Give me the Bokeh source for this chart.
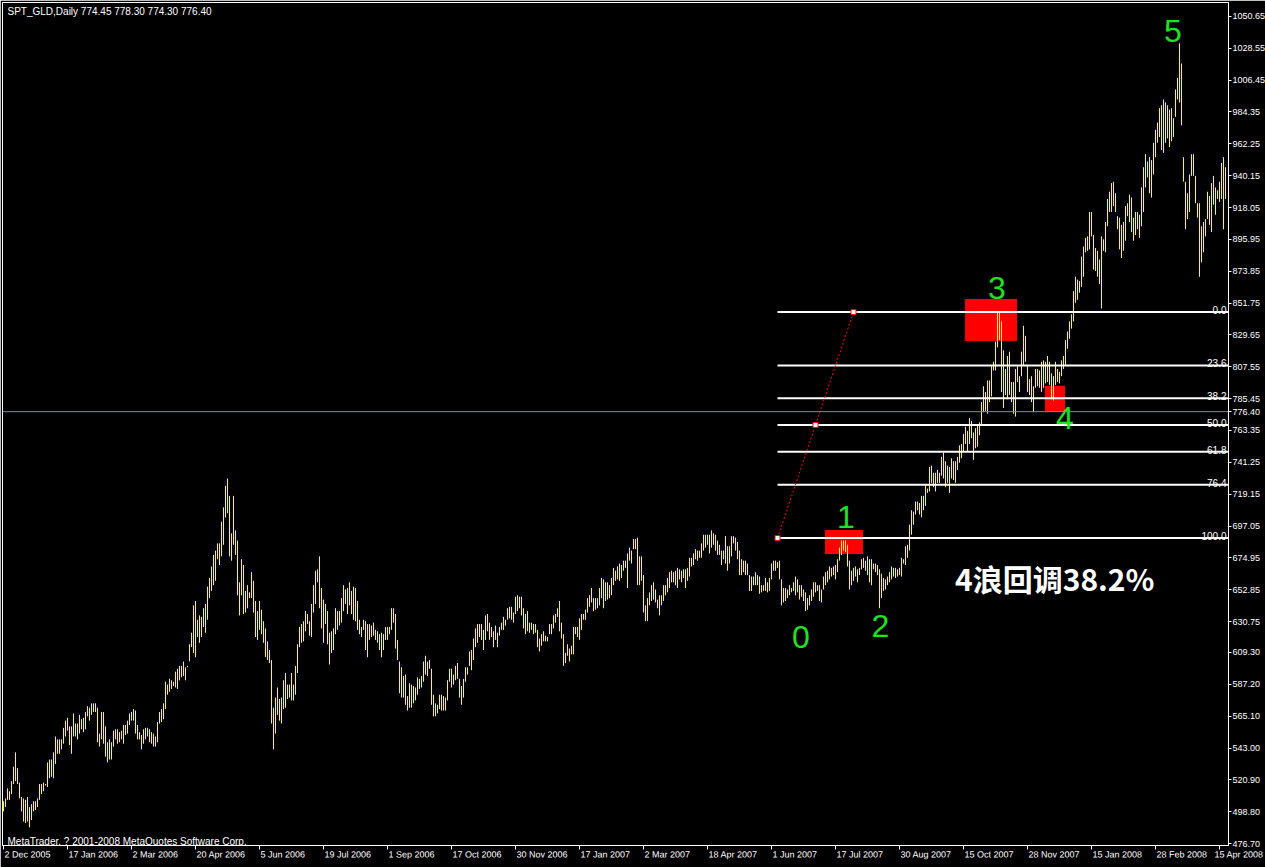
from bokeh.plotting import figure
from bokeh.models import Range1d, FixedTicker, PrintfTickFormatter, Span
from bokeh.core.properties import value
from bokeh.embed import file_html
from bokeh.resources import INLINE

# ---------------- data (daily bars, high / low) ----------------
bar_high = [
    506, 508, 515, 513, 520, 530, 540, 529, 519, 509, 508, 507, 509, 502, 504, 506, 506, 508, 518, 518,
    519, 518, 533, 535, 535, 540, 551, 549, 549, 549, 557, 562, 564, 558, 558, 567, 560, 560, 566, 563,
    564, 568, 572, 571, 574, 574, 574, 571, 553, 568, 568, 558, 547, 549, 547, 555, 556, 556, 554, 555,
    559, 559, 562, 567, 568, 570, 569, 559, 554, 552, 556, 557, 557, 556, 554, 553, 551, 561, 568, 570,
    574, 589, 587, 591, 590, 589, 596, 598, 600, 600, 603, 599, 600, 615, 623, 642, 645, 632, 635, 634,
    640, 643, 655, 661, 669, 677, 680, 685, 685, 700, 710, 725, 730, 718, 692, 718, 694, 687, 658, 674,
    670, 652, 656, 651, 665, 659, 645, 638, 645, 639, 631, 626, 617, 611, 604, 571, 578, 585, 577, 578,
    590, 595, 587, 587, 595, 587, 600, 615, 627, 629, 631, 638, 636, 631, 643, 656, 666, 667, 676, 654,
    646, 643, 638, 623, 624, 626, 640, 638, 638, 647, 656, 653, 654, 658, 652, 655, 654, 645, 632, 627,
    632, 631, 629, 629, 628, 630, 625, 624, 622, 623, 622, 627, 627, 627, 640, 640, 636, 618, 603, 599,
    593, 594, 579, 588, 587, 586, 585, 592, 591, 593, 603, 607, 603, 604, 598, 580, 574, 573, 580, 580,
    579, 578, 590, 598, 598, 594, 600, 602, 591, 586, 591, 599, 599, 610, 611, 619, 626, 629, 629, 629,
    625, 635, 636, 630, 627, 624, 628, 623, 627, 630, 634, 632, 640, 641, 641, 637, 648, 649, 648, 648,
    640, 636, 638, 630, 630, 629, 629, 625, 619, 622, 624, 621, 620, 629, 629, 635, 636, 640, 645, 630,
    622, 609, 615, 612, 614, 627, 627, 627, 633, 636, 636, 639, 647, 649, 654, 647, 647, 647, 654, 661,
    660, 658, 658, 656, 661, 668, 666, 669, 671, 670, 673, 673, 678, 682, 680, 688, 688, 689, 676, 676,
    663, 642, 647, 651, 656, 658, 653, 646, 649, 649, 656, 656, 661, 665, 666, 665, 666, 668, 667, 666,
    667, 667, 668, 675, 675, 678, 681, 680, 680, 685, 691, 691, 691, 691, 694, 692, 691, 687, 684, 680,
    680, 690, 683, 683, 690, 690, 689, 686, 680, 674, 673, 673, 671, 663, 662, 662, 665, 663, 662, 656,
    656, 661, 658, 661, 671, 673, 673, 672, 673, 660, 654, 654, 653, 656, 654, 658, 662, 660, 656, 656,
    653, 651, 647, 649, 653, 658, 658, 656, 656, 653, 662, 665, 666, 669, 668, 669, 670, 674, 682, 687,
    687, 687, 684, 673, 666, 668, 669, 667, 668, 674, 675, 673, 676, 674, 674, 671, 671, 670, 667, 664,
    661, 660, 662, 665, 669, 668, 668, 667, 668, 675, 674, 683, 684, 698, 708, 707, 714, 714, 713, 718,
    718, 726, 723, 738, 739, 734, 734, 736, 734, 745, 748, 742, 739, 738, 744, 742, 742, 745, 753, 754,
    761, 766, 763, 772, 770, 762, 765, 767, 769, 783, 794, 790, 798, 798, 808, 811, 825, 846, 846, 839,
    819, 806, 815, 818, 797, 797, 806, 808, 801, 818, 836, 829, 808, 799, 801, 794, 806, 806, 805, 811,
    812, 811, 815, 811, 803, 801, 811, 806, 804, 812, 815, 826, 832, 839, 844, 860, 870, 868, 867, 884,
    891, 897, 898, 915, 915, 899, 890, 888, 882, 898, 896, 908, 924, 929, 935, 936, 928, 912, 911, 906,
    908, 919, 921, 927, 925, 911, 915, 915, 913, 932, 946, 955, 950, 953, 951, 963, 972, 977, 987, 989,
    993, 991, 989, 986, 987, 980, 1000, 1008, 1032, 1018, 953, 936, 928, 941, 955, 955, 940, 921, 921, 905,
    908, 910, 929, 926, 935, 940, 932, 930, 936, 949, 953, 946,
]
bar_low = [
    499, 502, 507, 507, 511, 518, 520, 518, 508, 499, 492, 491, 492, 488, 493, 499, 500, 502, 507, 511,
    513, 517, 516, 522, 523, 522, 532, 539, 539, 542, 546, 551, 555, 545, 539, 551, 551, 549, 553, 556,
    554, 556, 565, 562, 566, 568, 568, 547, 544, 549, 546, 537, 533, 535, 535, 544, 549, 546, 547, 549,
    546, 552, 553, 559, 562, 562, 553, 549, 549, 542, 546, 549, 551, 547, 546, 544, 544, 547, 560, 561,
    563, 570, 580, 582, 584, 586, 585, 584, 590, 592, 593, 590, 599, 603, 613, 609, 606, 620, 616, 620,
    627, 623, 632, 647, 652, 656, 659, 674, 670, 676, 684, 703, 706, 676, 673, 684, 677, 649, 635, 649,
    636, 637, 640, 647, 647, 637, 620, 618, 625, 622, 616, 606, 604, 602, 560, 542, 553, 566, 562, 560,
    570, 571, 577, 578, 576, 576, 580, 595, 613, 616, 617, 624, 629, 621, 620, 637, 643, 658, 640, 626,
    616, 629, 615, 601, 609, 611, 622, 625, 628, 630, 638, 643, 636, 642, 636, 632, 631, 625, 622, 620,
    625, 611, 606, 618, 620, 621, 618, 616, 611, 606, 611, 618, 618, 622, 625, 630, 612, 604, 581, 578,
    578, 573, 569, 571, 571, 574, 576, 580, 584, 585, 589, 594, 593, 598, 573, 565, 565, 567, 570, 569,
    569, 569, 576, 589, 585, 587, 590, 591, 578, 573, 578, 589, 594, 600, 597, 604, 613, 616, 620, 618,
    611, 618, 624, 618, 620, 613, 618, 613, 621, 625, 625, 628, 632, 633, 632, 630, 636, 638, 640, 635,
    626, 622, 624, 623, 625, 622, 623, 613, 610, 614, 617, 617, 617, 622, 622, 626, 630, 634, 624, 619,
    600, 602, 607, 603, 608, 608, 622, 620, 618, 625, 632, 632, 637, 641, 644, 638, 639, 640, 642, 647,
    640, 645, 646, 647, 649, 656, 659, 660, 659, 661, 666, 668, 654, 673, 671, 681, 681, 656, 656, 659,
    637, 631, 631, 642, 645, 646, 644, 640, 635, 642, 645, 649, 651, 654, 658, 658, 656, 654, 660, 658,
    661, 654, 659, 662, 669, 670, 674, 673, 675, 675, 680, 682, 684, 678, 682, 684, 680, 677, 677, 670,
    674, 671, 666, 671, 676, 685, 680, 674, 663, 663, 665, 663, 663, 652, 652, 656, 656, 656, 650, 651,
    652, 652, 651, 652, 660, 666, 666, 668, 660, 642, 644, 645, 647, 649, 651, 652, 649, 651, 646, 648,
    645, 638, 639, 642, 645, 648, 651, 652, 645, 644, 653, 656, 658, 660, 662, 663, 660, 665, 673, 677,
    680, 679, 669, 653, 656, 659, 662, 658, 663, 667, 668, 666, 663, 658, 656, 667, 665, 663, 640, 647,
    652, 653, 656, 658, 660, 662, 661, 662, 663, 662, 671, 670, 675, 680, 691, 698, 705, 708, 705, 703,
    708, 711, 720, 721, 727, 724, 721, 727, 727, 732, 730, 724, 727, 720, 730, 729, 727, 736, 741, 744,
    749, 754, 749, 754, 758, 743, 751, 752, 760, 767, 776, 777, 775, 783, 787, 805, 805, 821, 826, 790,
    779, 788, 785, 788, 783, 775, 773, 797, 790, 801, 808, 811, 790, 788, 783, 776, 793, 794, 793, 790,
    793, 796, 797, 795, 785, 784, 795, 797, 796, 801, 806, 808, 820, 827, 834, 839, 852, 854, 859, 863,
    870, 887, 888, 889, 898, 875, 874, 870, 865, 848, 888, 887, 905, 915, 915, 919, 915, 903, 889, 883,
    888, 895, 912, 908, 901, 895, 899, 903, 897, 905, 915, 932, 939, 928, 925, 941, 953, 963, 967, 958,
    956, 963, 966, 960, 964, 967, 981, 993, 991, 975, 936, 903, 910, 915, 940, 940, 921, 911, 870, 880,
    887, 898, 910, 906, 901, 920, 913, 924, 922, 924, 903, 924,
]
bar_index = list(range(len(bar_high)))

date_labels = [
    "2 Dec 2005", "17 Jan 2006", "2 Mar 2006", "20 Apr 2006", "5 Jun 2006", "19 Jul 2006",
    "1 Sep 2006", "17 Oct 2006", "30 Nov 2006", "17 Jan 2007", "2 Mar 2007", "18 Apr 2007",
    "1 Jun 2007", "17 Jul 2007", "30 Aug 2007", "15 Oct 2007", "28 Nov 2007", "15 Jan 2008",
    "28 Feb 2008", "15 Apr 2008",
]
date_bar = [0, 32, 64, 96, 128, 160, 192, 224, 256, 288, 320, 352, 384, 416, 448, 480, 512, 544, 576, 608]

price_ticks = [1050.65, 1028.55, 1006.45, 984.35, 962.25, 940.15, 918.05, 895.95, 873.85, 851.75,
               829.65, 807.55, 785.45, 763.35, 741.25, 719.15, 697.05, 674.95, 652.85, 630.75,
               609.30, 587.20, 565.10, 543.00, 520.90, 498.80, 476.70]

last_price = 776.40
title_text = "SPT_GLD,Daily  774.45 778.30 774.30 776.40"
copyright_text = "MetaTrader, ? 2001-2008 MetaQuotes Software Corp."

# Fibonacci retracement: drawn from bar 387 (100%) to bar 425 (0%)
fib_bar = [387, 425]
fib_price = [688.75, 845.50]
fib_levels = [0.0, 23.6, 38.2, 50.0, 61.8, 76.4, 100.0]

# red highlight boxes (bar index / price)
box_left = [410.75, 480.75, 520.75]
box_right = [429.75, 506.75, 530.75]
box_top = [694.3, 854.5, 794.4]
box_bottom = [677.7, 825.5, 776.5]

# Elliott wave numbers
wave_names = ["0", "1", "2", "3", "4", "5"]
wave_bar = [398.75, 421.25, 438.5, 496.75, 530.75, 584.75]
wave_price = [612.1, 695.7, 619.7, 854.9, 764.7, 1032.7]

note_text = "4浪回调38.2%"
note_bar = 475.75
note_price = 661.1

# ---------------- layout constants ----------------
X0, X1 = -0.5, 612.5
Y0, Y1 = 475.35, 1060.32
FRAME_W = 1226
RIGHT_W = 37
PX_PER_BAR = FRAME_W / (X1 - X0)
FONT = "Liberation Sans"
DATE_FS = 9

# Arial / Liberation Sans advance widths (em), used only to keep the last date inside the page
CW = {" ": 0.278, "D": 0.722, "J": 0.5, "M": 0.833, "A": 0.667, "S": 0.667, "O": 0.778,
      "N": 0.722, "F": 0.611, "e": 0.556, "c": 0.5, "a": 0.556, "n": 0.556, "r": 0.333,
      "p": 0.556, "u": 0.556, "l": 0.222, "g": 0.556, "t": 0.278, "o": 0.556, "v": 0.5,
      "b": 0.556}


def label_start(bar, text):
    w = sum(CW.get(ch, 0.556) for ch in text) * DATE_FS
    s = bar + 1 / PX_PER_BAR
    s_max = X1 + (RIGHT_W - 2 - w) / PX_PER_BAR
    return round(min(s, s_max), 3)


label_pos = [label_start(b, s) for b, s in zip(date_bar, date_labels)]

# ---------------- figure ----------------
p = figure(frame_width=FRAME_W, height=867, x_range=Range1d(X0, X1), y_range=Range1d(Y0, Y1),
           y_axis_location="right", output_backend="svg", toolbar_location=None,
           background_fill_color="black", border_fill_color="black",
           min_border_left=2, min_border_top=2, min_border_right=RIGHT_W, min_border_bottom=18,
           outline_line_color="white", outline_line_width=1)
p.grid.visible = False

xa = p.xaxis[0]
xa.ticker = FixedTicker(ticks=label_pos, minor_ticks=date_bar)
xa.major_label_overrides = {c: s for c, s in zip(label_pos, date_labels)}
xa.major_label_orientation = -0.001     # tiny clockwise tilt -> labels start at their tick
xa.major_tick_out = 0
xa.major_tick_in = 0
xa.major_tick_line_color = None
xa.minor_tick_out = 4
xa.minor_tick_in = 0
xa.minor_tick_line_color = "white"
xa.major_label_standoff = 5
xa.axis_line_color = "white"
xa.major_label_text_color = "white"
xa.major_label_text_font = FONT
xa.major_label_text_font_size = f"{DATE_FS}px"

ya = p.yaxis[0]
ya.ticker = FixedTicker(ticks=price_ticks + [last_price])
ya.formatter = PrintfTickFormatter(format="%.2f")
ya.major_tick_out = 3
ya.major_tick_in = 0
ya.minor_tick_out = 0
ya.minor_tick_in = 0
ya.major_label_standoff = 1
ya.axis_line_color = "white"
ya.major_tick_line_color = "white"
ya.major_label_text_color = "white"
ya.major_label_text_font = FONT
ya.major_label_text_font_size = "9px"

# red boxes (behind the bars)
p.quad(left=box_left, right=box_right, top=box_top, bottom=box_bottom,
       fill_color="#FF0000", line_color=None)

# price bars
p.segment(x0=bar_index, y0=bar_low, x1=bar_index, y1=bar_high,
          line_color="#FFFF00", line_width=1)

# current price line
p.add_layout(Span(location=last_price, dimension="width", line_color="#7A8CA3", line_width=1))

# Fibonacci levels
top_p, bot_p = fib_price[1], fib_price[0]
lvl_price = [top_p - lv / 100.0 * (top_p - bot_p) for lv in fib_levels]
n = len(fib_levels)
p.segment(x0=[fib_bar[0]] * n, x1=[X1] * n, y0=lvl_price, y1=lvl_price,
          line_color="white", line_width=2)
p.text(x=[X1] * n, y=lvl_price, text=[f"{lv:.1f}" for lv in fib_levels],
       x_offset=-2, y_offset=-2, text_align="right", text_baseline="alphabetic",
       text_color="white", text_font=value(FONT), text_font_size="10px")

# trend line with anchor points
p.line(x=fib_bar, y=fib_price, line_color="#FF0000", line_width=1, line_dash="2 2")
mid_bar = (fib_bar[0] + fib_bar[1]) / 2
mid_price = (fib_price[0] + fib_price[1]) / 2
p.scatter(x=[fib_bar[0], mid_bar, fib_bar[1]], y=[fib_price[0], mid_price, fib_price[1]],
          marker="square", size=5, fill_color="white", line_color="#FF0000", line_width=1)

# wave numbers
p.text(x=wave_bar, y=wave_price, text=wave_names, text_align="center", y_offset=-11,
       text_baseline="alphabetic", text_color="#1FE31F",
       text_font=value(FONT), text_font_size="32px")

# note
p.text(x=[note_bar], y=[note_price], text=[note_text], text_align="left",
       text_baseline="middle", text_color="white", text_font=value("Noto Sans CJK SC"),
       text_font_size="30px", text_font_style="bold")

# header and footer texts
p.text(x=[X0], y=[Y1], text=[title_text], x_offset=5, y_offset=3, text_baseline="top",
       text_color="white", text_font=value(FONT), text_font_size="10px")
p.text(x=[X0], y=[Y0], text=[copyright_text], x_offset=5, y_offset=-4,
       text_baseline="alphabetic", text_color="white", text_font=value(FONT),
       text_font_size="10px")

open("out.html", "w").write(file_html(p, INLINE))
